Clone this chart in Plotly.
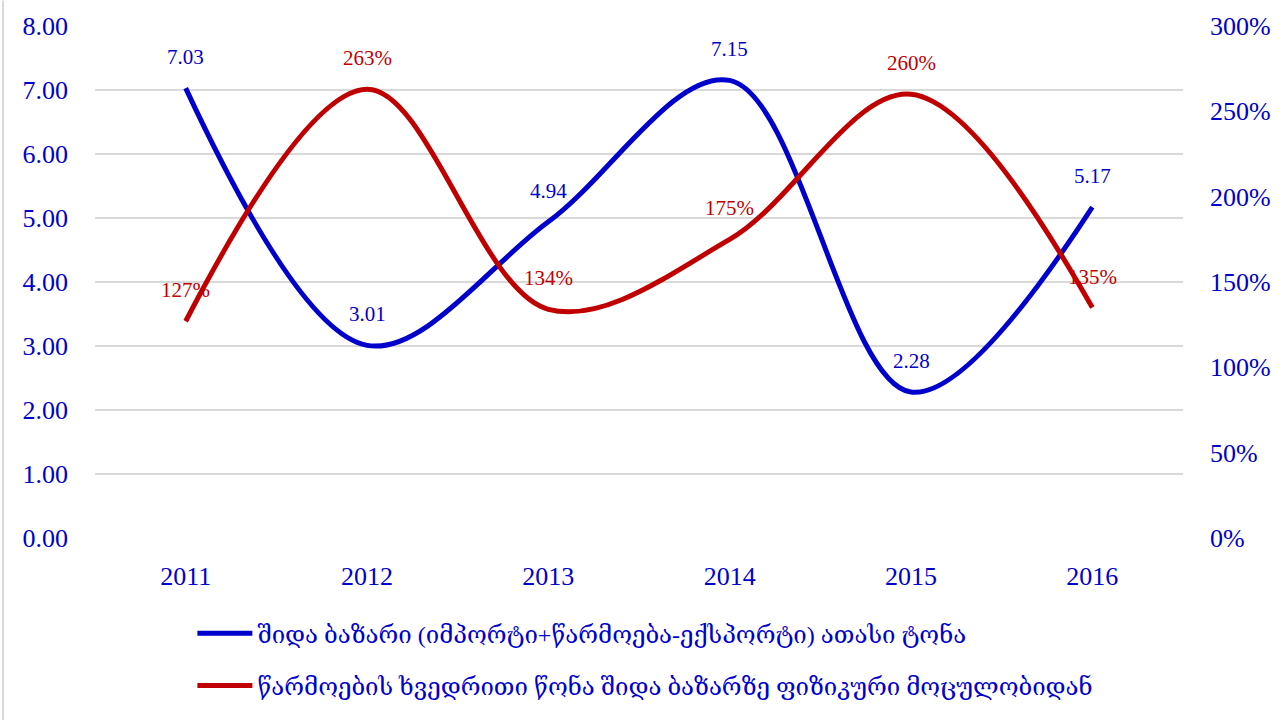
import plotly.graph_objects as go

years = ["2011", "2012", "2013", "2014", "2015", "2016"]
market = [7.03, 3.01, 4.94, 7.15, 2.28, 5.17]
share = [1.27, 2.63, 1.34, 1.75, 2.60, 1.35]
market_name = "შიდა ბაზარი (იმპორტი+წარმოება-ექსპორტი) ათასი ტონა"
share_name = "წარმოების ხვედრითი წონა შიდა ბაზარზე ფიზიკური მოცულობიდან"

BLUE = "#0000CC"
RED = "#C00000"
FONT = "Liberation Serif, DejaVu Serif, serif"

fig = go.Figure()
fig.add_trace(go.Scatter(
    x=years, y=market, name=market_name, mode="lines",
    line=dict(color=BLUE, width=5, shape="spline", smoothing=1),
    legendgroup="a",
))
fig.add_trace(go.Scatter(
    x=years, y=share, name=share_name, mode="lines", yaxis="y2",
    line=dict(color=RED, width=5, shape="spline", smoothing=1),
    legendgroup="b",
))

# value labels above each point (category axis -> use the category index)
annotations = []
for i, v in enumerate(market):
    annotations.append(dict(x=i, y=v, xref="x", yref="y", text=f"{v:.2f}",
                            showarrow=False, yshift=31,
                            font=dict(family=FONT, size=21, color=BLUE)))
for i, v in enumerate(share):
    annotations.append(dict(x=i, y=v, xref="x", yref="y2", text=f"{v*100:.0f}%",
                            showarrow=False, yshift=31,
                            font=dict(family=FONT, size=21, color=RED)))

fig.update_layout(
    width=1287, height=720,
    margin=dict(l=95, r=104, t=22, b=179),
    plot_bgcolor="white", paper_bgcolor="white",
    font=dict(family=FONT, size=26, color=BLUE),
    xaxis=dict(type="category", range=[-0.5, 5.5], showgrid=False,
               showline=False, zeroline=False, ticks="",
               ticklabelstandoff=20, tickfont=dict(size=26, color=BLUE)),
    yaxis=dict(range=[0, 8], dtick=1, tickformat=".2f", showgrid=True,
               gridcolor="#D9D9D9", gridwidth=2, zeroline=False,
               showline=False, ticklabelstandoff=26,
               tickfont=dict(size=26, color=BLUE)),
    yaxis2=dict(range=[0, 3], dtick=0.5, tickformat=".0%", overlaying="y",
                side="right", showgrid=False, zeroline=False, showline=False,
                ticklabelstandoff=26, tickfont=dict(size=26, color=BLUE)),
    legend=dict(x=0.0895, y=-0.143, xanchor="left", yanchor="top",
                orientation="v", traceorder="grouped", tracegroupgap=18,
                font=dict(family=FONT, size=24, color=BLUE),
                bgcolor="rgba(0,0,0,0)", itemwidth=55),
    annotations=annotations,
    shapes=[dict(type="line", xref="paper", yref="paper",
                 x0=-0.0846, x1=-0.0846, y0=-0.36, y1=1.05,
                 line=dict(color="#D9D9D9", width=2))],
    showlegend=True,
)

fig.write_html("out.html")
